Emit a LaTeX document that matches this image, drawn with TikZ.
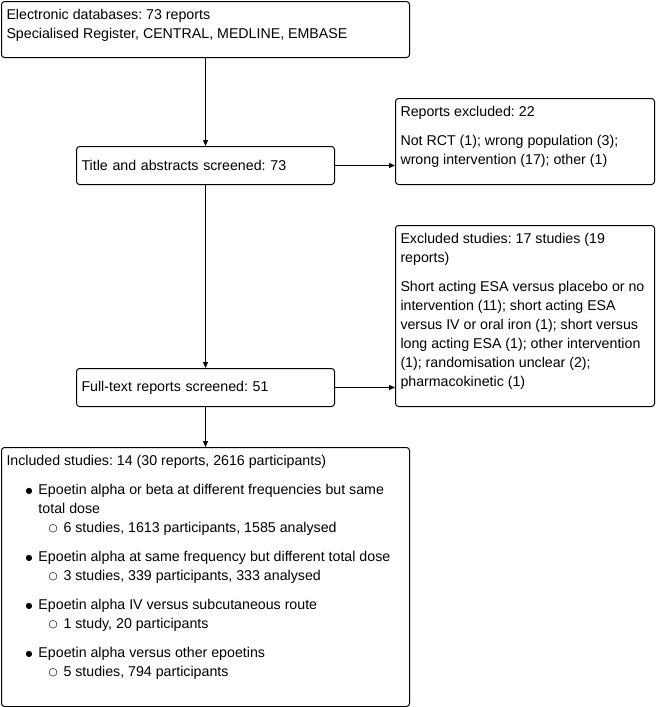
\documentclass[tikz,border=0pt]{standalone}
\usepackage{fontspec}
\setmainfont{Liberation Sans}
\newfontfamily\symfont{DejaVu Sans}
\usepackage{tikz}
\usetikzlibrary{arrows.meta, positioning}

% bullets for the list of included studies
\newcommand{\fullbul}{\ensuremath{\vcenter{\hbox{\symfont\fontsize{8}{8}\selectfont ●}}}}
\newcommand{\openbul}{\ensuremath{\vcenter{\hbox{\symfont\fontsize{10.5}{10.5}\selectfont ○}}}}
\newcommand{\grouprow}[1]{\hspace*{19pt}\makebox[13pt][l]{\fullbul}#1}
\newcommand{\countrow}[1]{\hspace*{42pt}\makebox[15pt][l]{\openbul}#1}

\begin{document}
\frenchspacing
\begin{tikzpicture}[
      x=1pt, y=-1pt,
      every node/.style={font=\fontsize{14.2}{19}\selectfont},
      box/.style={draw, rounded corners=3pt, anchor=north west, inner sep=5pt, line width=1pt},
      onerow/.style={box, align=left, text width=248pt, minimum height=38pt},
      flow/.style={draw, line width=1pt, -{Triangle[length=6pt, width=5pt]}}
    ]
    \useasboundingbox (0,0) rectangle (657,707);

    % main column
    \node[box] (db) at (1,1) {\parbox[t][46pt][t]{398pt}{\raggedright\strut
      Electronic databases: 73 reports\\
      Specialised Register, CENTRAL, MEDLINE, EMBASE}};
    \node[onerow] (title) at (76,146) {Title and abstracts screened: 73};
    \node[onerow] (full) at (76,368) {Full-text reports screened: 51};
    \node[box] (incl) at (1,447) {\parbox[t][249pt][t]{398pt}{\raggedright\strut
      Included studies: 14 (30 reports, 2616 participants)\\[10pt]
      \grouprow{Epoetin alpha or beta at different frequencies but same}\\
      \hspace*{32pt}total dose\\
      \countrow{6 studies, 1613 participants, 1585 analysed}\\[10pt]
      \grouprow{Epoetin alpha at same frequency but different total dose}\\
      \countrow{3 studies, 339 participants, 333 analysed}\\[10pt]
      \grouprow{Epoetin alpha IV versus subcutaneous route}\\
      \countrow{1 study, 20 participants}\\[10pt]
      \grouprow{Epoetin alpha versus other epoetins}\\
      \countrow{5 studies, 794 participants}}};

    % exclusions on the right
    \node[box] (rexcl) at (395,98) {\parbox[t][76pt][t]{249pt}{\raggedright\strut
      Reports excluded: 22\\[10pt]
      Not RCT (1); wrong population (3);\\
      wrong intervention (17); other (1)}};
    \node[box] (sexcl) at (395,225) {\parbox[t][171pt][t]{249pt}{\raggedright\strut
      Excluded studies: 17 studies (19\\
      reports)\\[10pt]
      Short acting ESA versus placebo or no\\
      intervention (11); short acting ESA\\
      versus IV or oral iron (1); short versus\\
      long acting ESA (1); other intervention\\
      (1); randomisation unclear (2);\\
      pharmacokinetic (1)}};

    % connectors
    \draw[flow] (db.south) -- (title.north);
    \draw[flow] (title.south) -- (full.north);
    \draw[flow] (full.south) -- (incl.north);
    \draw[flow] (title.east) -- (title.east -| rexcl.west);
    \draw[flow] (full.east) -- (full.east -| sexcl.west);

  \end{tikzpicture}
\end{document}
